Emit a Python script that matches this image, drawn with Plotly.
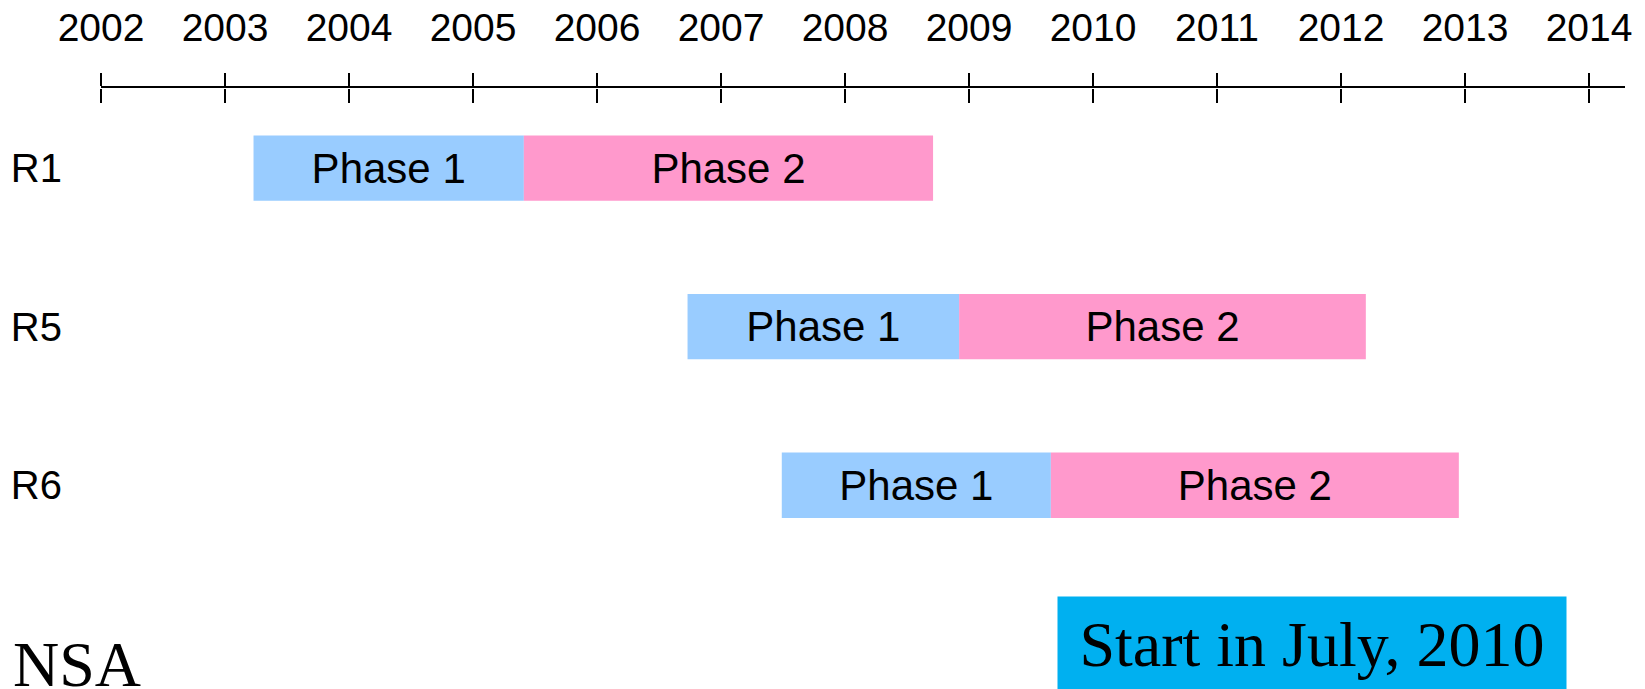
import plotly.graph_objects as go

# ---- data ----
rows = ["R1", "R5", "R6"]
phase1_start = [2003.23, 2006.73, 2007.49]
phase1_end = [2005.41, 2008.92, 2009.66]
phase2_end = [2008.71, 2012.20, 2012.95]
years = list(range(2002, 2015))
phase_labels = ["Phase 1", "Phase 2"]
note_text = "Start in July, 2010"
org_text = "NSA"

# ---- layout constants (page body has an 8px default margin) ----
W, H = 1645, 689
ML, MR, MT, MB = 93, 28, 80, 0
BLUE = "#99CCFF"
PINK = "#FF99CC"
BOX = "#00B0F0"
SANS = "Arial, Liberation Sans, sans-serif"
SERIF = "Times New Roman, Liberation Serif, serif"

p1_dur = [e - s for s, e in zip(phase1_start, phase1_end)]
p2_dur = [e - s for s, e in zip(phase1_end, phase2_end)]

fig = go.Figure()
fig.add_trace(go.Bar(
    y=rows, x=p1_dur, base=phase1_start, orientation="h",
    marker=dict(color=BLUE, line=dict(width=0)),
    text=[phase_labels[0]] * len(rows), textposition="inside",
    insidetextanchor="middle", textfont=dict(family=SANS, size=42, color="black"),
    width=0.412, showlegend=False, hoverinfo="skip",
))
fig.add_trace(go.Bar(
    y=rows, x=p2_dur, base=phase1_end, orientation="h",
    marker=dict(color=PINK, line=dict(width=0)),
    text=[phase_labels[1]] * len(rows), textposition="inside",
    insidetextanchor="middle", textfont=dict(family=SANS, size=42, color="black"),
    width=0.412, showlegend=False, hoverinfo="skip",
))
# invisible helper trace so the secondary (downward-tick) axis is rendered
fig.add_trace(go.Scatter(
    x=[years[0], years[-1]], y=[rows[0], rows[0]], xaxis="x2", yaxis="y",
    mode="markers", marker=dict(opacity=0, size=1),
    showlegend=False, hoverinfo="skip",
))

plot_w = W - ML - MR
plot_h = H - MT - MB

fig.update_layout(
    width=W, height=H,
    margin=dict(l=ML, r=MR, t=MT, b=MB, pad=0),
    paper_bgcolor="white", plot_bgcolor="white",
    barmode="overlay",
    xaxis=dict(
        range=[2002, 2014.29], side="top", tickvals=years,
        ticktext=[str(y) for y in years],
        ticks="outside", ticklen=13, tickwidth=2, tickcolor="black",
        showline=True, linecolor="black", linewidth=2,
        showgrid=False, zeroline=False, automargin=False,
        tickfont=dict(family=SANS, size=39, color="black"),
        ticklabelstandoff=16,
    ),
    xaxis2=dict(
        overlaying="x", side="bottom", anchor="free", position=1,
        range=[2002, 2014.29], tickvals=years,
        ticks="outside", ticklen=14, tickwidth=2, tickcolor="black",
        showticklabels=False, showline=False, showgrid=False, zeroline=False,
        automargin=False,
    ),
    yaxis=dict(
        range=[3.3355, -0.5048], type="category", categoryorder="array",
        categoryarray=rows, ticks="", showline=False, showgrid=False,
        zeroline=False, automargin=False,
        tickfont=dict(family=SANS, size=40, color="black"),
        ticklabelstandoff=38,
    ),
    annotations=[
        dict(
            text=note_text, xref="paper", yref="paper",
            x=(1304 - ML) / plot_w, y=(H - 588) / plot_h,
            xanchor="center", yanchor="top",
            width=508, height=94, borderpad=0, bgcolor=BOX,
            showarrow=False, font=dict(family=SERIF, size=64, color="black"),
        ),
        dict(
            text=org_text, xref="paper", yref="paper",
            x=(3 - ML) / plot_w, y=(H - 656) / plot_h,
            xanchor="left", yanchor="middle",
            showarrow=False, font=dict(family=SERIF, size=64, color="black"),
        ),
    ],
)

fig.write_html("out.html")
